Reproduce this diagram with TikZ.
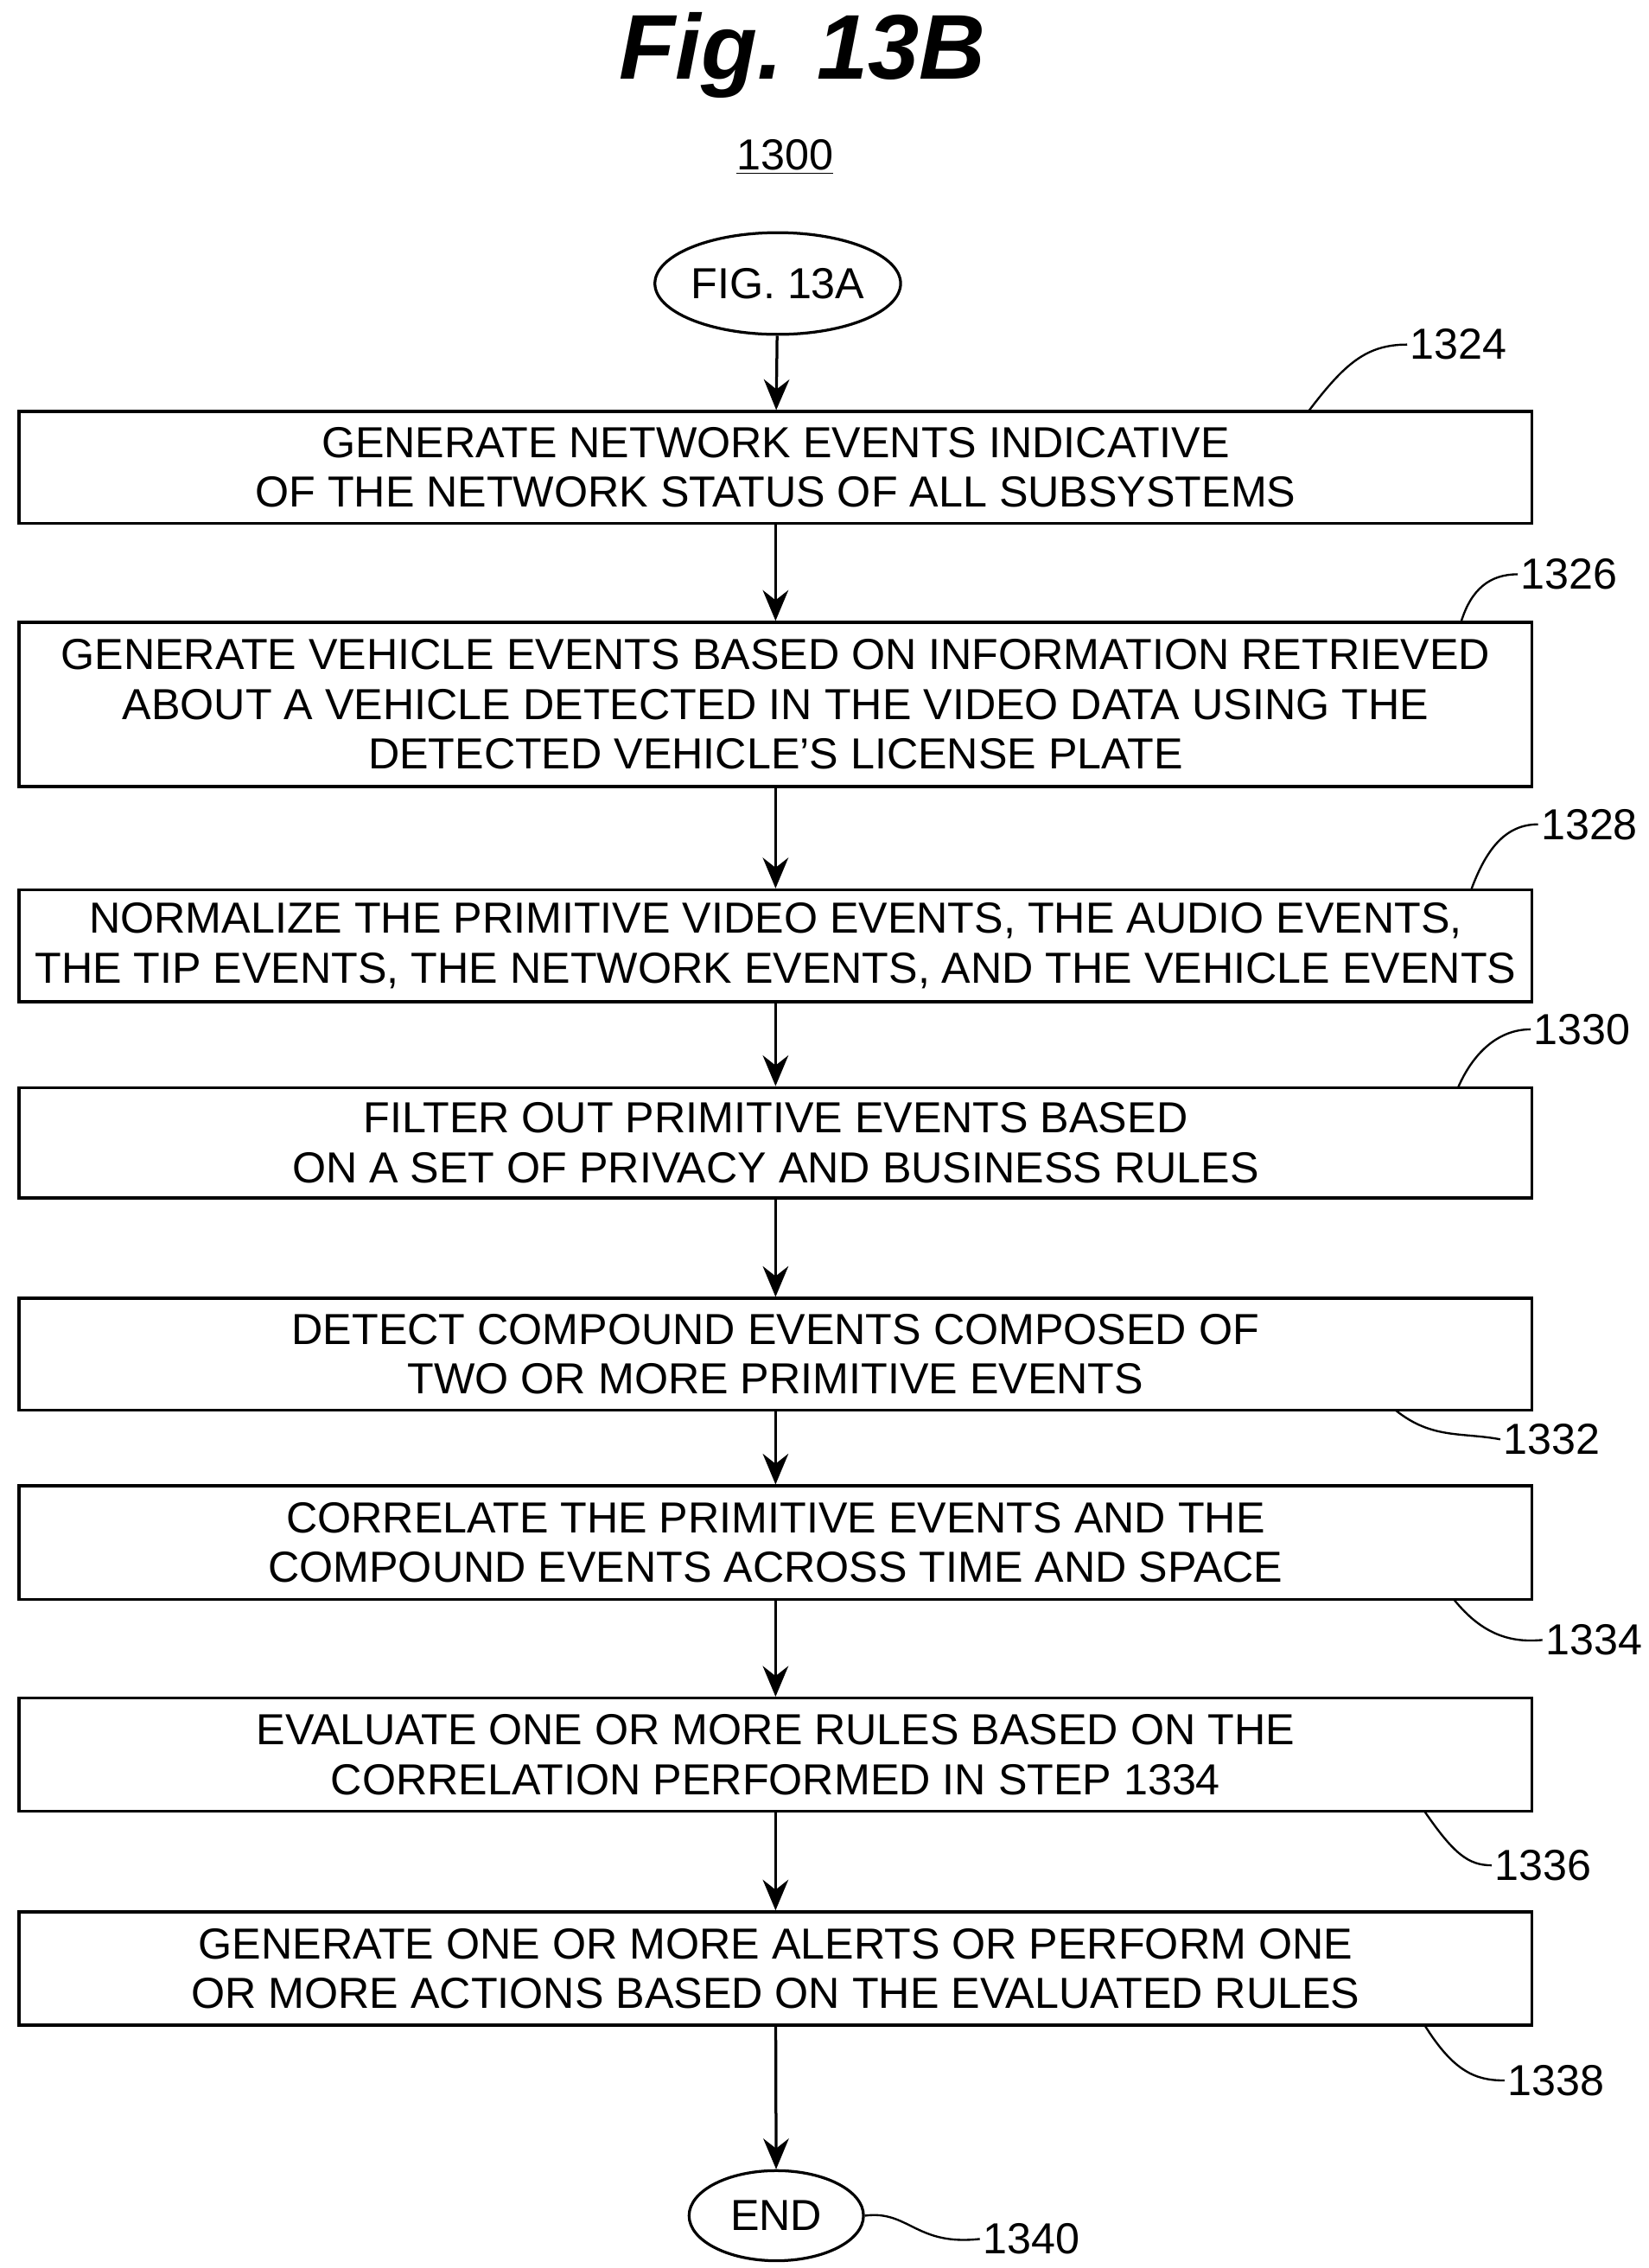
\documentclass[tikz,border=0pt]{standalone}
\usepackage{fontspec}
\setmainfont{Liberation Sans}
\usetikzlibrary{shapes.geometric, arrows.meta, positioning, calc}

\begin{document}
\begin{tikzpicture}[x=0.02cm, y=-0.02cm,
      box/.style={draw, line width=1.1pt, minimum width=20.82cm, minimum height=1.54cm,
                   font=\fontsize{17}{19.5}\selectfont, align=center, inner sep=0pt},
      term/.style={draw, ellipse, line width=1.1pt, font=\fontsize{17}{19.5}\selectfont,
                   inner sep=0pt},
      arr/.style={-{Stealth[length=12pt, width=10pt]}, line width=1.1pt},
      lead/.style={line width=0.8pt},
      num/.style={font=\fontsize{17}{19.5}\selectfont, inner sep=1pt}
    ]
  \useasboundingbox (0,0) rectangle (1134,1560);
  \node[font=\fontsize{36}{40}\selectfont\bfseries\itshape] (title) at (552,38) {Fig. 13B};
  \node[font=\fontsize{17}{19.5}\selectfont] (fig) at (540,108) {\underline{1300}};

  \node[term, minimum width=2.8cm, minimum height=1.4cm] (start) at (535,195) {FIG. 13A};
  \node[box] (s1324) at (533.5,321.5) {GENERATE NETWORK EVENTS INDICATIVE\\OF THE NETWORK STATUS OF ALL SUBSYSTEMS};
  \node[box, minimum height=2.26cm] (s1326) at (533.5,484.5) {GENERATE VEHICLE EVENTS BASED ON INFORMATION RETRIEVED\\ABOUT A VEHICLE DETECTED IN THE VIDEO DATA USING THE\\DETECTED VEHICLE’S LICENSE PLATE};
  \node[box] (s1328) at (533.5,650.5) {NORMALIZE THE PRIMITIVE VIDEO EVENTS, THE AUDIO EVENTS,\\THE TIP EVENTS, THE NETWORK EVENTS, AND THE VEHICLE EVENTS};
  \node[box, minimum height=1.52cm] (s1330) at (533.5,786) {FILTER OUT PRIMITIVE EVENTS BASED\\ON A SET OF PRIVACY AND BUSINESS RULES};
  \node[box] (s1332) at (533.5,931.5) {DETECT COMPOUND EVENTS COMPOSED OF\\TWO OR MORE PRIMITIVE EVENTS};
  \node[box, minimum height=1.56cm] (s1334) at (533.5,1061) {CORRELATE THE PRIMITIVE EVENTS AND THE\\COMPOUND EVENTS ACROSS TIME AND SPACE};
  \node[box, minimum height=1.56cm] (s1336) at (533.5,1207) {EVALUATE ONE OR MORE RULES BASED ON THE\\CORRELATION PERFORMED IN STEP 1334};
  \node[box, minimum height=1.56cm] (s1338) at (533.5,1354) {GENERATE ONE OR MORE ALERTS OR PERFORM ONE\\OR MORE ACTIONS BASED ON THE EVALUATED RULES};
  \node[term, minimum width=2.4cm, minimum height=1.24cm] (end) at (534,1524) {END};

  \draw[arr] (start) -- (s1324);
  \draw[arr] (s1324) -- (s1326);
  \draw[arr] (s1326) -- (s1328);
  \draw[arr] (s1328) -- (s1330);
  \draw[arr] (s1330) -- (s1332);
  \draw[arr] (s1332) -- (s1334);
  \draw[arr] (s1334) -- (s1336);
  \draw[arr] (s1336) -- (s1338);
  \draw[arr] (s1338) -- (end);

  % reference numerals
  \node[num, anchor=west] (n1324) at (968,237) {1324};
  \node[num, anchor=west] (n1326) at (1044,395) {1326};
  \node[num, anchor=west] (n1328) at (1058,567) {1328};
  \node[num, anchor=west] (n1330) at (1053,708) {1330};
  \node[num, anchor=west] (n1332) at (1032,990) {1332};
  \node[num, anchor=west] (n1334) at (1061,1128) {1334};
  \node[num, anchor=west] (n1336) at (1026,1283) {1336};
  \node[num, anchor=west] (n1338) at (1035,1431) {1338};
  \node[num, anchor=west] (n1340) at (674,1540) {1340};

  \coordinate (c1324) at (900,283);
  \coordinate (c1326) at (1005,428);
  \coordinate (c1328) at (1012,612);
  \coordinate (c1330) at (1003,748);
  \coordinate (c1332) at (960,970);
  \coordinate (c1334) at (1000,1100);
  \coordinate (c1336) at (980,1246);
  \coordinate (c1338) at (980,1393);

  \draw[lead] (c1324) .. controls (925,250) and (940,237) .. (n1324.west);
  \draw[lead] (c1326) .. controls (1012,405) and (1025,395) .. (n1326.west);
  \draw[lead] (c1328) .. controls (1022,585) and (1035,567) .. (n1328.west);
  \draw[lead] (c1330) .. controls (1013,725) and (1030,708) .. (n1330.west);
  \draw[lead] (c1332) .. controls (985,990) and (1005,985) .. (n1332.west);
  \draw[lead] (c1334) .. controls (1020,1125) and (1040,1130) .. (n1334.west);
  \draw[lead] (c1336) .. controls (1000,1275) and (1010,1283) .. (n1336.west);
  \draw[lead] (c1338) .. controls (1000,1425) and (1015,1431) .. (n1338.west);
  \draw[lead] (end.east) .. controls (625,1520) and (630,1545) .. (n1340.west);
\end{tikzpicture}
\end{document}
